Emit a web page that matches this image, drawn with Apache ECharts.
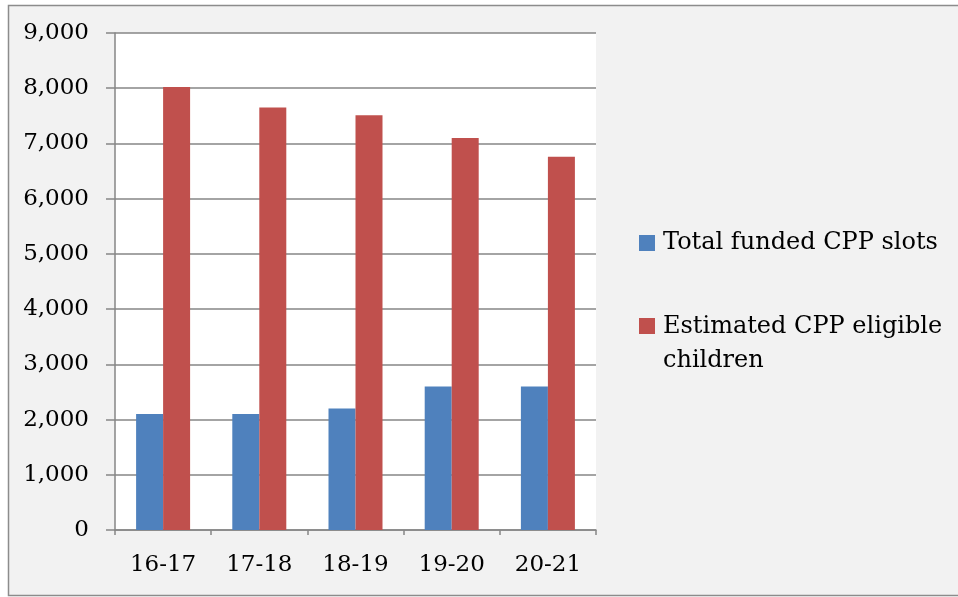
<!DOCTYPE html>
<html>
<head>
<meta charset="utf-8">
<script src="https://cdn.jsdelivr.net/npm/echarts@6/dist/echarts.min.js"></script>
<style>
  html, body { margin: 0; padding: 0; background: #ffffff; }
  #chart { width: 958px; height: 597px; }
</style>
</head>
<body>
<div id="chart"></div>
<script>
// Fiscal years on the category axis
const years = ['16-17', '17-18', '18-19', '19-20', '20-21'];
// Series names
const seriesNames = ['Total funded CPP slots', 'Estimated CPP eligible children'];
// Values per fiscal year
const fundedSlots = [2100, 2100, 2200, 2600, 2600];
const eligibleChildren = [8020, 7650, 7510, 7100, 6760];
// Value axis range
const yMin = 0;
const yMax = 9000;
const yStep = 1000;

const FONT = '"DejaVu Serif", serif';
const GRAY = '#868686';

const chart = echarts.init(document.getElementById('chart'), null, { renderer: 'canvas' });

chart.setOption({
  backgroundColor: '#ffffff',
  animation: false,
  graphic: [{
    type: 'rect',
    z: -10,
    shape: { x: 8.5, y: 5.5, width: 960, height: 590 },
    style: { fill: '#f2f2f2', stroke: '#8c8c8c', lineWidth: 1.5 }
  }],
  grid: {
    left: 115, top: 33, width: 481, height: 497,
    show: true, backgroundColor: '#ffffff', borderWidth: 0
  },
  legend: [{
    data: [{ name: seriesNames[0], icon: 'rect' }],
    orient: 'vertical',
    left: 639, top: 231,
    padding: 0,
    itemWidth: 16, itemHeight: 16,
    textStyle: { fontFamily: FONT, fontSize: 24, color: '#000', padding: [0, 0, 0, 3] }
  }, {
    // second item wraps onto two lines; its square sits beside the first line
    data: [{ name: seriesNames[1], icon: 'path://M0,8h16v16h-16zM0,0h0M0,68h0' }],
    orient: 'vertical',
    left: 639, top: 310,
    padding: 0,
    itemWidth: 16, itemHeight: 68,
    formatter: () => 'Estimated CPP eligible\nchildren',
    textStyle: { fontFamily: FONT, fontSize: 24, lineHeight: 34, color: '#000', padding: [0, 0, 0, 3] }
  }],
  xAxis: {
    type: 'category',
    data: years,
    axisLine: { lineStyle: { color: GRAY, width: 1.5 } },
    axisTick: { show: true, length: 5, lineStyle: { color: GRAY, width: 1.5 } },
    axisLabel: { fontFamily: FONT, fontSize: 23, color: '#000', margin: 24 }
  },
  yAxis: {
    type: 'value',
    min: yMin, max: yMax, interval: yStep,
    axisLine: { show: true, lineStyle: { color: GRAY, width: 1.5 } },
    axisTick: { show: true, length: 9, lineStyle: { color: GRAY, width: 1.5 } },
    splitLine: { lineStyle: { color: GRAY, width: 1.5 } },
    axisLabel: {
      fontFamily: FONT, fontSize: 23, color: '#000', margin: 26,
      formatter: v => v.toLocaleString('en-US')
    }
  },
  series: [{
    name: seriesNames[0],
    type: 'bar',
    data: fundedSlots,
    barWidth: 27,
    barGap: '0%',
    itemStyle: { color: '#4f81bd' }
  }, {
    name: seriesNames[1],
    type: 'bar',
    data: eligibleChildren,
    barWidth: 27,
    barGap: '0%',
    itemStyle: { color: '#c0504d' }
  }]
});
</script>
</body>
</html>
